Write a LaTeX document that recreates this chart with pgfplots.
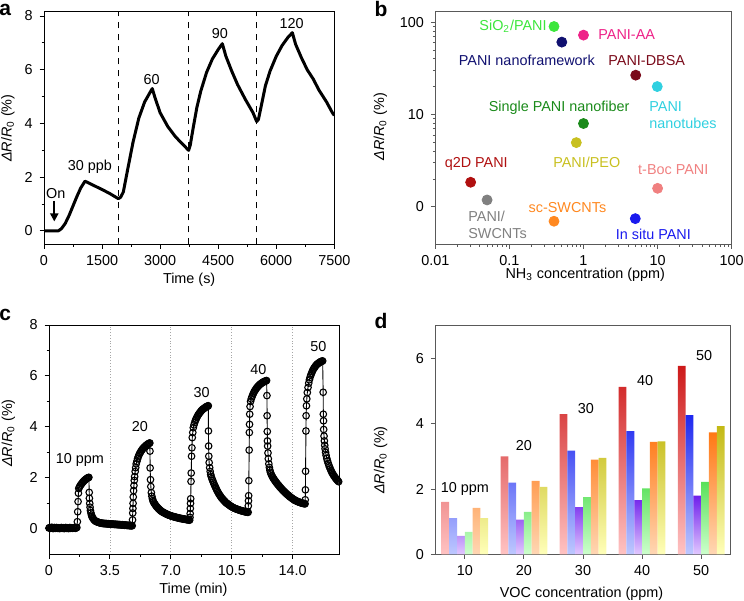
\documentclass[border=0pt]{standalone}
\usepackage{pgfplots}
\pgfplotsset{compat=1.18}
\usepackage{fontspec}
\setmainfont{Liberation Sans}
\usetikzlibrary{arrows.meta}

\definecolor{cSiO}{RGB}{60,230,60}
\definecolor{cNanoF}{RGB}{16,16,112}
\definecolor{cAA}{RGB}{238,34,136}
\definecolor{cDBSA}{RGB}{122,10,26}
\definecolor{cTubes}{RGB}{48,208,224}
\definecolor{cFiber}{RGB}{26,138,26}
\definecolor{cPEO}{RGB}{200,192,32}
\definecolor{cQ2D}{RGB}{176,16,16}
\definecolor{cSWCNT}{RGB}{128,128,128}
\definecolor{cSc}{RGB}{255,136,32}
\definecolor{cBoc}{RGB}{240,128,128}
\definecolor{cInsitu}{RGB}{26,26,238}

\definecolor{redT}{RGB}{205,25,25}\definecolor{redB}{RGB}{255,195,195}
\definecolor{blueT}{RGB}{30,40,240}\definecolor{blueB}{RGB}{190,200,255}
\definecolor{purpT}{RGB}{110,30,235}\definecolor{purpB}{RGB}{225,200,255}
\definecolor{greenT}{RGB}{90,225,90}\definecolor{greenB}{RGB}{205,255,205}
\definecolor{orangeT}{RGB}{255,120,20}\definecolor{orangeB}{RGB}{255,215,180}
\definecolor{yellowT}{RGB}{195,185,20}\definecolor{yellowB}{RGB}{255,255,185}

\pgfplotsset{
  myaxis/.style={
    scale only axis,
    anchor=south west,
    /pgf/number format/assume math mode=true,
    /pgf/number format/1000 sep={},
    tick align=outside,
    tick pos=left,
    axis line style={line width=0.5pt},
    every tick/.style={line width=0.5pt},
    major tick length=2.2pt,
    minor tick length=1.2pt,
    clip=true,
  }
}

\newcommand{\dRR}{\textit{ΔR}/\textit{R}\textsubscript{0} (\%)}

\begin{document}
\begin{tikzpicture}[font=\fontsize{7.2}{8.6}\selectfont]
\path[use as bounding box] (0,0) rectangle (372pt,300pt);

% ---------------- panel a ----------------
\begin{axis}[myaxis,
  at={(22pt,177.85pt)}, width=145.15pt, height=116.15pt,
  xmin=0, xmax=7500, ymin=-0.5, ymax=8.15,
  xtick={0,1500,3000,4500,6000,7500}, ytick={0,2,4,6,8},
  minor x tick num=1, minor y tick num=1,
  xlabel={Time (s)}, ylabel={\dRR},
  xlabel style={at={(axis description cs:0.5,-0.154)}, anchor=center},
  ylabel style={at={(axis description cs:-0.124,0.5)}, anchor=center},
]
\addplot[black, dashed, line width=0.5pt] coordinates {(1929,-0.5) (1929,8.15)};
\addplot[black, dashed, line width=0.5pt] coordinates {(3737,-0.5) (3737,8.15)};
\addplot[black, dashed, line width=0.5pt] coordinates {(5495,-0.5) (5495,8.15)};
\addplot[black, line width=1.5pt, line join=round] coordinates {
(0,0) (370,0) (450,0.08) (550,0.28) (650,0.58) (750,0.93) (850,1.28) (950,1.6) (1059,1.85)
(1300,1.68) (1500,1.54) (1700,1.39) (1920,1.2)
(1980,1.25) (2050,1.45) (2150,2.2) (2300,3.3) (2450,4.2) (2600,4.8) (2797,5.3)
(2870,4.95) (3000,4.4) (3200,3.88) (3400,3.5) (3600,3.2) (3737,3.0)
(3780,3.2) (3850,3.8) (3950,4.6) (4050,5.2) (4200,5.9) (4350,6.4) (4500,6.75) (4607,6.97)
(4700,6.5) (4850,5.95) (5000,5.45) (5200,4.9) (5400,4.4) (5495,4.07)
(5540,4.15) (5620,4.7) (5720,5.4) (5840,5.95) (6000,6.5) (6150,6.9) (6300,7.2) (6416,7.38)
(6500,6.95) (6650,6.45) (6800,6.0) (6958,5.65) (7100,5.25) (7300,4.8) (7450,4.4) (7500,4.3)
};
\draw[-{Triangle[length=4pt,width=4pt]}, line width=1.1pt] (axis cs:266,1.12) -- (axis cs:266,0.35);
\node at (axis cs:302,1.38) {On};
\node at (axis cs:1188,2.39) {30 ppb};
\node at (axis cs:2782,5.65) {60};
\node at (axis cs:4547,7.35) {90};
\node at (axis cs:6399,7.73) {120};
\end{axis}

% ---------------- panel b ----------------
\begin{axis}[myaxis, xmode=log, ymode=log,
  at={(217.65pt,177.85pt)}, width=148.2pt, height=116.15pt,
  xmin=0.01, xmax=100, ymin=0.394, ymax=129,
  xtick={0.01,0.1,1,10,100}, xticklabels={0.01,0.1,1,10,100},
  ytick={1,10,100}, yticklabels={0,10,100},
  axis line style={black!65},
  every tick/.style={black!65, line width=0.5pt},
  xlabel={NH\textsubscript{3} concentration (ppm)}, ylabel={\dRR},
  xlabel style={at={(axis description cs:0.506,-0.132)}, anchor=center},
  ylabel style={at={(axis description cs:-0.185,0.506)}, anchor=center},
]
\addplot[only marks, mark=*, mark size=2.5pt, color=cSiO] coordinates {(0.40,89.8)};
\addplot[only marks, mark=*, mark size=2.5pt, color=cNanoF] coordinates {(0.51,60.9)};
\addplot[only marks, mark=*, mark size=2.5pt, color=cAA] coordinates {(1.0,72.5)};
\addplot[only marks, mark=*, mark size=2.5pt, color=cDBSA] coordinates {(5.07,26.7)};
\addplot[only marks, mark=*, mark size=2.5pt, color=cTubes] coordinates {(9.9,20.1)};
\addplot[only marks, mark=*, mark size=2.5pt, color=cFiber] coordinates {(1.0,8.0)};
\addplot[only marks, mark=*, mark size=2.5pt, color=cPEO] coordinates {(0.80,4.97)};
\addplot[only marks, mark=*, mark size=2.5pt, color=cQ2D] coordinates {(0.03,1.85)};
\addplot[only marks, mark=*, mark size=2.5pt, color=cSWCNT] coordinates {(0.05,1.19)};
\addplot[only marks, mark=*, mark size=2.5pt, color=cSc] coordinates {(0.40,0.70)};
\addplot[only marks, mark=*, mark size=2.5pt, color=cBoc] coordinates {(10,1.59)};
\addplot[only marks, mark=*, mark size=2.5pt, color=cInsitu] coordinates {(5.0,0.747)};
\node[text=cSiO] at (axis cs:0.112,89.8) {SiO\textsubscript{2}/PANI};
\node[text=cAA] at (axis cs:3.83,73.1) {PANI-AA};
\node[text=cNanoF] at (axis cs:0.172,38.2) {PANI nanoframework};
\node[text=cDBSA] at (axis cs:7.13,38.2) {PANI-DBSA};
\node[text=cFiber] at (axis cs:0.469,11.7) {Single PANI nanofiber};
\node[text=cTubes, anchor=west, align=left, inner sep=0pt] at (axis cs:7.66,9.93) {PANI\\nanotubes};
\node[text=cPEO] at (axis cs:1.107,3.05) {PANI/PEO};
\node[text=cQ2D] at (axis cs:0.0357,2.92) {q2D PANI};
\node[text=cBoc] at (axis cs:16.3,2.56) {t-Boc PANI};
\node[text=cSWCNT, anchor=west, align=left, inner sep=0pt] at (axis cs:0.0276,0.638) {PANI/\\SWCNTs};
\node[text=cSc] at (axis cs:0.608,0.99) {sc-SWCNTs};
\node[text=cInsitu] at (axis cs:8.78,0.51) {In situ PANI};
\end{axis}

% ---------------- panel c ----------------
\begin{axis}[myaxis,
  at={(24.5pt,22.85pt)}, width=145pt, height=114.65pt,
  xmin=0, xmax=16.66, ymin=-1, ymax=8,
  xtick={0,3.5,7,10.5,14}, xticklabels={0,3.5,7.0,10.5,14.0},
  ytick={0,2,4,6,8},
  minor x tick num=1, minor y tick num=1,
  xmajorgrids, major grid style={densely dotted, black!35, line width=0.4pt},
  xlabel={Time (min)}, ylabel={\dRR},
  xlabel style={at={(axis description cs:0.498,-0.156)}, anchor=center},
  ylabel style={at={(axis description cs:-0.14,0.529)}, anchor=center},
]
\addplot[black, line width=0.45pt, mark=o, mark size=1.65pt, mark options={line width=0.55pt, fill=white}] coordinates {
(0,0.03)(0.04,0.05)(0.08,0.02)(0.12,0.04)(0.16,0.06)(0.2,0.03)(0.24,0.01)(0.28,0.04)(0.32,0.05)(0.36,0.02)
(0.4,0.03)(0.44,0.05)(0.48,0.02)(0.52,0.04)(0.56,0.03)(0.6,0.01)(0.64,0.04)(0.68,0.02)(0.72,0.05)(0.76,0.03)
(0.8,0.02)(0.84,0.04)(0.88,0.01)(0.92,0.03)(0.96,0.05)(1.0,0.02)(1.04,0.04)(1.08,0.03)(1.12,0.01)(1.16,0.03)
(1.2,0.05)(1.24,0.02)(1.28,0.04)(1.32,0.03)(1.36,0.02)(1.4,0.04)(1.44,0.03)(1.48,0.05)(1.52,0.02)(1.56,0.04)
(1.6,0.05)
(1.63,0.28)(1.65,0.67)(1.67,1.07)(1.69,1.40)(1.71,1.58)
(1.74,1.63)(1.78,1.68)(1.82,1.72)(1.86,1.76)(1.9,1.79)(1.94,1.83)(1.98,1.86)(2.02,1.89)(2.06,1.91)(2.1,1.94)
(2.14,1.96)(2.18,1.98)(2.22,2.0)(2.26,2.01)(2.29,2.02)
(2.31,1.43)(2.32,1.2)(2.34,1.0)(2.36,0.85)(2.38,0.72)(2.41,0.62)(2.44,0.54)(2.47,0.48)(2.5,0.44)(2.54,0.4)
(2.58,0.36)(2.62,0.33)(2.66,0.31)(2.7,0.29)(2.74,0.28)(2.78,0.27)(2.82,0.26)(2.86,0.25)(2.9,0.24)(2.94,0.23)
(2.98,0.23)(3.02,0.22)(3.06,0.22)(3.1,0.21)(3.14,0.21)(3.18,0.21)(3.22,0.2)(3.26,0.21)(3.3,0.2)(3.34,0.2)
(3.38,0.19)(3.42,0.2)(3.46,0.19)(3.5,0.19)(3.54,0.19)(3.58,0.18)(3.62,0.19)(3.66,0.18)(3.7,0.18)(3.74,0.18)
(3.78,0.17)(3.82,0.18)(3.86,0.17)(3.9,0.17)(3.94,0.17)(3.98,0.16)(4.02,0.17)(4.06,0.16)(4.1,0.16)(4.14,0.16)
(4.18,0.15)(4.22,0.16)(4.26,0.15)(4.3,0.15)(4.34,0.14)(4.38,0.15)(4.42,0.14)(4.46,0.14)(4.5,0.13)(4.54,0.14)
(4.58,0.13)(4.62,0.13)(4.66,0.12)(4.7,0.13)(4.74,0.12)(4.78,0.12)
(4.80,0.35)(4.81,0.62)(4.82,0.8)(4.83,1.0)(4.84,1.25)(4.86,1.5)(4.88,1.7)(4.9,1.9)(4.92,2.05)(4.95,2.25)
(4.98,2.4)(5.01,2.55)
(5.05,2.65)(5.09,2.75)(5.13,2.83)(5.17,2.9)(5.21,2.96)(5.25,3.0)(5.29,3.05)(5.33,3.09)(5.37,3.13)(5.41,3.16)
(5.45,3.19)(5.49,3.22)(5.53,3.24)(5.57,3.27)(5.61,3.29)(5.65,3.31)(5.69,3.33)(5.73,3.35)(5.77,3.36)(5.79,3.37)
(5.8,3.05)(5.81,2.39)(5.83,1.93)(5.85,1.66)(5.88,1.42)(5.91,1.28)(5.94,1.18)(5.97,1.11)(6.0,1.06)(6.04,1.01)
(6.08,0.97)(6.12,0.93)(6.16,0.89)(6.2,0.86)(6.24,0.83)(6.28,0.8)(6.32,0.77)(6.36,0.75)(6.4,0.72)(6.44,0.7)
(6.48,0.68)(6.52,0.66)(6.56,0.65)(6.6,0.63)(6.64,0.62)(6.68,0.6)(6.72,0.59)(6.76,0.58)(6.8,0.56)(6.84,0.55)
(6.88,0.54)(6.92,0.53)(6.96,0.52)(7.0,0.51)(7.04,0.5)(7.08,0.49)(7.12,0.48)(7.16,0.48)(7.2,0.47)(7.24,0.46)
(7.28,0.45)(7.32,0.45)(7.36,0.44)(7.4,0.43)(7.44,0.43)(7.48,0.42)(7.52,0.41)(7.56,0.41)(7.6,0.4)(7.64,0.4)
(7.68,0.39)(7.72,0.39)(7.76,0.38)(7.8,0.38)(7.84,0.37)(7.88,0.37)(7.92,0.36)(7.96,0.36)(8.0,0.35)(8.04,0.35)
(8.08,0.34)
(8.1,0.45)(8.11,0.6)(8.12,0.8)(8.13,1.0)(8.14,1.18)(8.16,1.86)(8.17,2.19)(8.19,2.85)(8.21,3.18)(8.23,3.58)
(8.26,3.78)(8.29,3.97)
(8.33,4.08)(8.37,4.17)(8.41,4.25)(8.45,4.31)(8.49,4.37)(8.53,4.42)(8.57,4.47)(8.61,4.51)(8.65,4.55)(8.69,4.58)
(8.73,4.62)(8.77,4.65)(8.81,4.68)(8.85,4.7)(8.89,4.72)(8.93,4.74)(8.97,4.76)(9.01,4.78)(9.05,4.8)(9.09,4.81)
(9.13,4.82)(9.15,4.83)
(9.16,3.84)(9.17,3.25)(9.18,2.85)(9.2,2.6)(9.23,2.4)(9.26,2.25)(9.29,2.13)(9.32,2.05)
(9.36,1.97)(9.4,1.9)(9.44,1.83)(9.48,1.76)(9.52,1.7)(9.56,1.64)(9.6,1.58)(9.64,1.52)(9.68,1.47)(9.72,1.42)
(9.76,1.37)(9.8,1.33)(9.84,1.29)(9.88,1.25)(9.92,1.21)(9.96,1.18)(10.0,1.15)(10.04,1.12)(10.08,1.09)(10.12,1.06)
(10.16,1.03)(10.2,1.01)(10.24,0.99)(10.28,0.97)(10.32,0.95)(10.36,0.93)(10.4,0.91)(10.44,0.89)(10.48,0.87)(10.52,0.86)
(10.56,0.84)(10.6,0.83)(10.64,0.81)(10.68,0.8)(10.72,0.79)(10.76,0.78)(10.8,0.77)(10.84,0.76)(10.88,0.75)(10.92,0.74)
(10.96,0.73)(11.0,0.72)(11.04,0.71)(11.08,0.71)(11.12,0.7)(11.16,0.69)(11.2,0.68)(11.24,0.68)(11.28,0.67)(11.32,0.66)
(11.36,0.66)(11.4,0.65)(11.44,0.65)
(11.45,0.9)(11.46,1.1)(11.47,1.3)(11.48,1.89)(11.5,3.09)(11.51,3.78)(11.52,4.1)(11.53,4.5)(11.55,4.8)(11.58,5.0)
(11.62,5.1)(11.66,5.18)(11.7,5.25)(11.74,5.31)(11.78,5.37)(11.82,5.42)(11.86,5.46)(11.9,5.5)(11.94,5.54)(11.98,5.57)
(12.02,5.6)(12.06,5.63)(12.1,5.66)(12.14,5.68)(12.18,5.7)(12.22,5.72)(12.26,5.74)(12.3,5.76)(12.34,5.77)(12.38,5.78)
(12.42,5.8)(12.46,5.81)(12.5,5.82)
(12.52,5.23)(12.53,4.44)(12.54,3.82)(12.55,3.45)(12.56,3.25)(12.58,2.98)(12.6,2.75)(12.63,2.55)(12.66,2.41)(12.69,2.3)
(12.72,2.22)(12.76,2.15)(12.8,2.09)(12.84,2.04)(12.88,1.99)(12.92,1.95)(12.96,1.91)(13.0,1.87)(13.04,1.83)(13.08,1.8)
(13.12,1.76)(13.16,1.73)(13.2,1.7)(13.24,1.66)(13.28,1.63)(13.32,1.6)(13.36,1.57)(13.4,1.54)(13.44,1.51)(13.48,1.48)
(13.52,1.46)(13.56,1.43)(13.6,1.4)(13.64,1.38)(13.68,1.35)(13.72,1.33)(13.76,1.31)(13.8,1.28)(13.84,1.26)(13.88,1.24)
(13.92,1.22)(13.96,1.2)(14.0,1.18)(14.04,1.16)(14.08,1.14)(14.12,1.13)(14.16,1.11)(14.2,1.1)(14.24,1.08)(14.28,1.07)
(14.32,1.06)(14.36,1.05)(14.4,1.04)(14.44,1.03)(14.48,1.02)(14.52,1.01)(14.56,1.0)(14.6,1.0)(14.64,0.99)(14.68,0.99)
(14.71,0.98)
(14.72,1.14)(14.73,1.53)(14.74,2.26)(14.76,3.84)(14.77,4.44)(14.79,4.83)(14.81,5.1)(14.84,5.35)
(14.88,5.55)(14.92,5.72)(14.96,5.85)(15.0,5.95)(15.04,6.03)(15.08,6.1)(15.12,6.17)(15.16,6.23)(15.2,6.28)(15.24,6.32)
(15.28,6.36)(15.32,6.4)(15.36,6.43)(15.4,6.46)(15.44,6.48)(15.48,6.5)(15.52,6.52)(15.56,6.54)(15.6,6.56)(15.64,6.57)
(15.68,6.58)(15.72,6.59)
(15.75,5.36)(15.76,4.5)(15.77,4.24)(15.78,3.9)(15.8,3.64)(15.82,3.45)(15.84,3.28)(15.86,3.14)(15.89,3.0)
(15.92,2.88)(15.96,2.76)(16.0,2.66)(16.04,2.57)(16.08,2.49)(16.12,2.42)(16.16,2.35)(16.2,2.29)(16.24,2.23)(16.28,2.18)
(16.32,2.13)(16.36,2.09)(16.4,2.05)(16.44,2.01)(16.48,1.97)(16.52,1.94)(16.56,1.91)(16.6,1.88)(16.64,1.85)
};
\node at (axis cs:1.77,2.72) {10 ppm};
\node at (axis cs:5.22,4.0) {20};
\node at (axis cs:8.77,5.36) {30};
\node at (axis cs:12.03,6.26) {40};
\node at (axis cs:15.48,7.17) {50};
\end{axis}

% ---------------- panel d ----------------
\begin{axis}[myaxis,
  at={(217.65pt,22.85pt)}, width=147.7pt, height=114.15pt,
  xmin=5, xmax=55, ymin=0, ymax=7,
  xtick={10,20,30,40,50}, ytick={0,2,4,6},
  axis line style={black!65},
  every tick/.style={black!65, line width=0.5pt},
  xlabel={VOC concentration (ppm)}, ylabel={\dRR},
  xlabel style={at={(axis description cs:0.495,-0.171)}, anchor=center},
  ylabel style={at={(axis description cs:-0.185,0.413)}, anchor=center},
]
\addplot[ybar, bar width=1.32, bar shift=-3.3, draw=none, top color=redT, bottom color=redB]
  coordinates {(10,1.61)(20,3.0)(30,4.3)(40,5.13)(50,5.78)};
\addplot[ybar, bar width=1.32, bar shift=-1.98, draw=none, top color=blueT, bottom color=blueB]
  coordinates {(10,1.11)(20,2.2)(30,3.18)(40,3.78)(50,4.27)};
\addplot[ybar, bar width=1.32, bar shift=-0.66, draw=none, top color=purpT, bottom color=purpB]
  coordinates {(10,0.565)(20,1.06)(30,1.45)(40,1.66)(50,1.8)};
\addplot[ybar, bar width=1.32, bar shift=0.66, draw=none, top color=greenT, bottom color=greenB]
  coordinates {(10,0.69)(20,1.3)(30,1.75)(40,2.02)(50,2.22)};
\addplot[ybar, bar width=1.32, bar shift=1.98, draw=none, top color=orangeT, bottom color=orangeB]
  coordinates {(10,1.42)(20,2.25)(30,2.9)(40,3.45)(50,3.74)};
\addplot[ybar, bar width=1.32, bar shift=3.3, draw=none, top color=yellowT, bottom color=yellowB]
  coordinates {(10,1.11)(20,2.07)(30,2.96)(40,3.46)(50,3.93)};
\node at (axis cs:10,1.99) {10 ppm};
\node at (axis cs:20,3.34) {20};
\node at (axis cs:30.5,4.47) {30};
\node at (axis cs:40.5,5.33) {40};
\node at (axis cs:50.5,6.08) {50};
\end{axis}

% panel letters
\node[font=\fontsize{10.5}{12}\selectfont\bfseries] at (2.6pt,295pt) {a};
\node[font=\fontsize{10.5}{12}\selectfont\bfseries] at (190.5pt,295.5pt) {b};
\node[font=\fontsize{10.5}{12}\selectfont\bfseries] at (2.6pt,142.5pt) {c};
\node[font=\fontsize{10.5}{12}\selectfont\bfseries] at (190.5pt,139.5pt) {d};
\end{tikzpicture}
\end{document}
